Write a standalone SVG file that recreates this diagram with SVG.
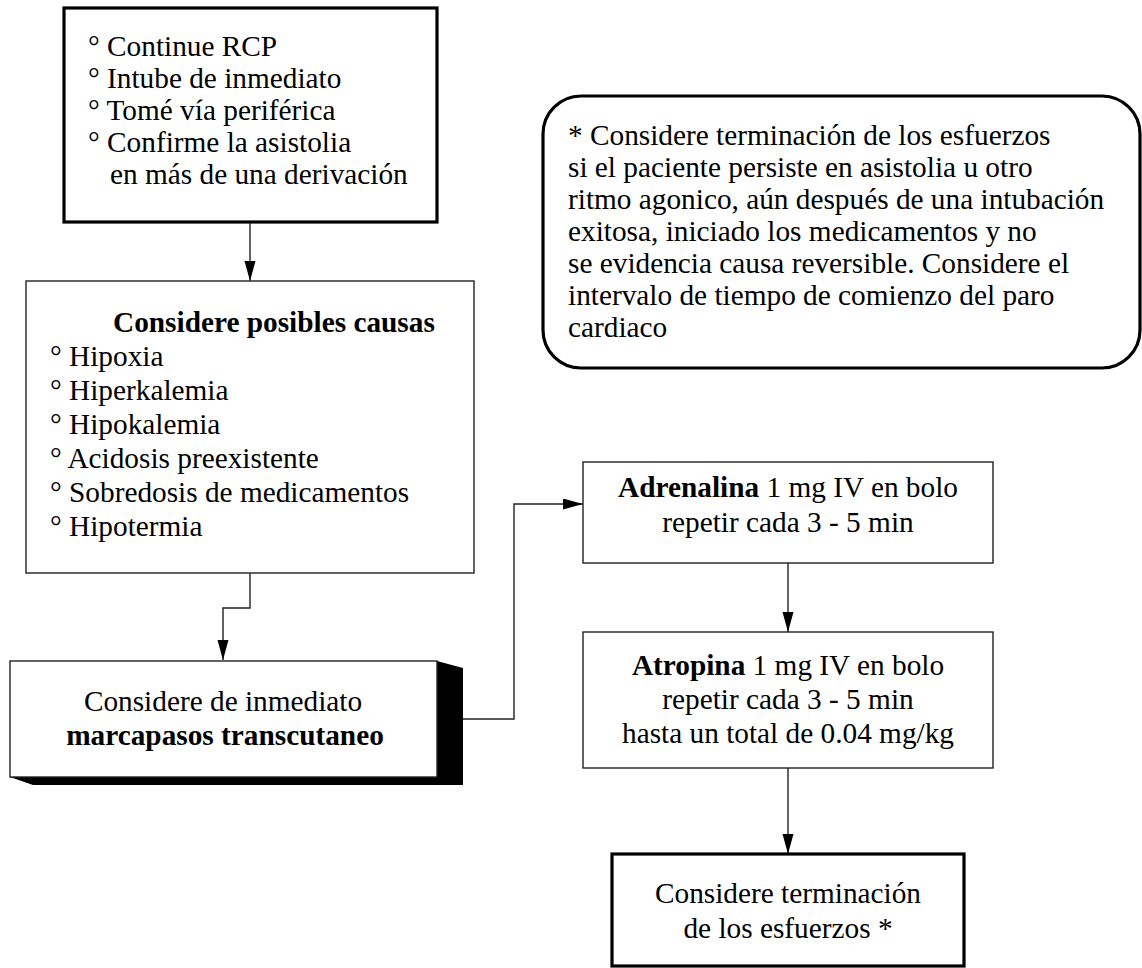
<svg xmlns="http://www.w3.org/2000/svg" width="1142" height="968" viewBox="0 0 1142 968">
<style>
text{font-family:"Liberation Serif","Times New Roman",serif;font-size:29.3px;fill:#000}
.b{font-weight:bold}
.m{text-anchor:middle}
.box{fill:#fff;stroke:#222;stroke-width:1.4}
.thick{fill:#fff;stroke:#000;stroke-width:3.2}
.conn{fill:none;stroke:#222;stroke-width:1.4}
</style>
<defs>
<marker id="ah" markerUnits="userSpaceOnUse" markerWidth="20" markerHeight="12" refX="20" refY="5.5" orient="auto">
<path d="M0,0 L20,5.5 L0,11 z" fill="#000"/>
</marker>
</defs>
<rect width="1142" height="968" fill="#fff"/>
<g id="connectors">
<path class="conn" d="M250,222 V281" marker-end="url(#ah)"/>
<path class="conn" d="M250,573 V608 H223 V660" marker-end="url(#ah)"/>
<path class="conn" d="M463,719 H514 V504 H583" marker-end="url(#ah)"/>
<path class="conn" d="M788,563 V632" marker-end="url(#ah)"/>
<path class="conn" d="M788,768 V854" marker-end="url(#ah)"/>
</g>
<g id="n1">
<rect class="thick" x="64" y="8" width="373" height="214"/>
<text x="88" y="56">° Continue RCP</text>
<text x="88" y="88">° Intube de inmediato</text>
<text x="88" y="120">° Tomé vía periférica</text>
<text x="88" y="152">° Confirme la asistolia</text>
<text x="110" y="184">en más de una derivación</text>
</g>
<g id="n2">
<rect class="box" x="26" y="281" width="448" height="292"/>
<text class="b" x="113" y="332">Considere posibles causas</text>
<text x="50" y="366">° Hipoxia</text>
<text x="50" y="400">° Hiperkalemia</text>
<text x="50" y="434">° Hipokalemia</text>
<text x="50" y="468">° Acidosis preexistente</text>
<text x="50" y="502">° Sobredosis de medicamentos</text>
<text x="50" y="536">° Hipotermia</text>
</g>
<g id="n3">
<polygon points="437,661 463,668 463,785 33,785 10,777 437,777" fill="#000"/>
<rect class="box" x="10" y="661" width="427" height="116"/>
<text class="m" x="223" y="711">Considere de inmediato</text>
<text class="m b" x="225" y="745">marcapasos transcutaneo</text>
</g>
<g id="note">
<rect class="thick" x="543" y="96" width="597" height="272" rx="38" ry="38"/>
<text x="568" y="145">* Considere terminación de los esfuerzos</text>
<text x="568" y="177">si el paciente persiste en asistolia u otro</text>
<text x="568" y="209">ritmo agonico, aún después de una intubación</text>
<text x="568" y="241">exitosa, iniciado los medicamentos y no</text>
<text x="568" y="273">se evidencia causa reversible. Considere el</text>
<text x="568" y="305">intervalo de tiempo de comienzo del paro</text>
<text x="568" y="337">cardiaco</text>
</g>
<g id="n4">
<rect class="box" x="583" y="462" width="410" height="101"/>
<text class="m" x="788" y="497"><tspan class="b">Adrenalina</tspan> 1 mg IV en bolo</text>
<text class="m" x="788" y="532">repetir cada 3 - 5 min</text>
</g>
<g id="n5">
<rect class="box" x="583" y="632" width="410" height="136"/>
<text class="m" x="788" y="675"><tspan class="b">Atropina</tspan> 1 mg IV en bolo</text>
<text class="m" x="788" y="709">repetir cada 3 - 5 min</text>
<text class="m" x="788" y="743">hasta un total de 0.04 mg/kg</text>
</g>
<g id="n6">
<rect class="thick" x="612" y="854" width="352" height="112"/>
<text class="m" x="788" y="903">Considere terminación</text>
<text class="m" x="788" y="938">de los esfuerzos *</text>
</g>
</svg>
